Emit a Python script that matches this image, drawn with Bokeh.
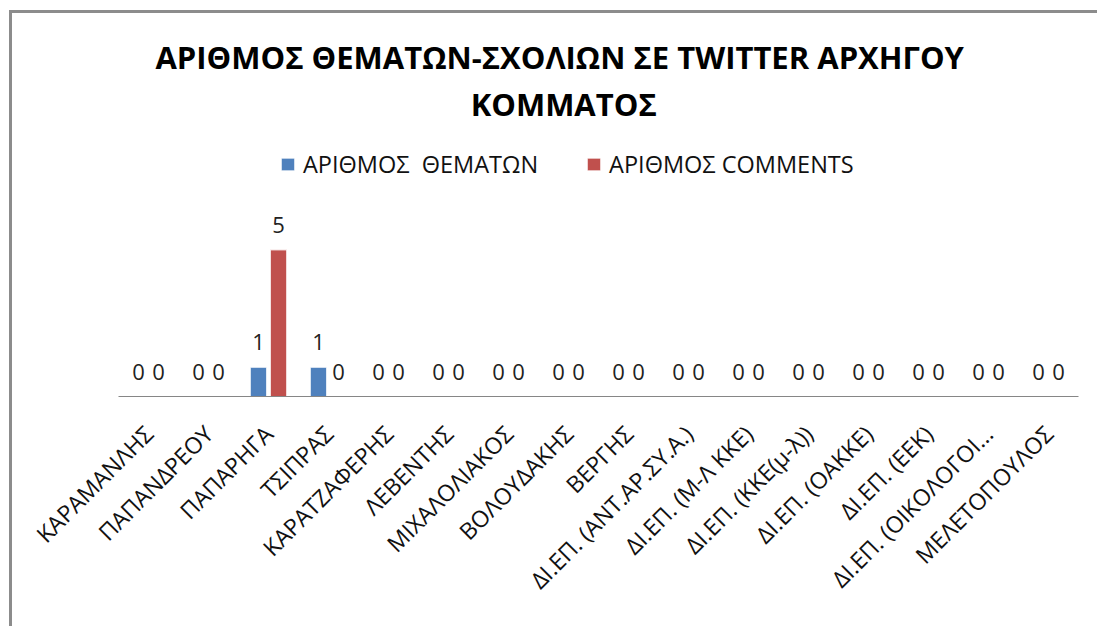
import math
from bokeh.plotting import figure
from bokeh.models import ColumnDataSource, LabelSet, Label, Legend, LegendItem, FactorRange, Range1d
from bokeh.transform import dodge
from bokeh.core.properties import value
from bokeh.embed import file_html
from bokeh.resources import INLINE

categories = ["ΚΑΡΑΜΑΝΛΗΣ", "ΠΑΠΑΝΔΡΕΟΥ", "ΠΑΠΑΡΗΓΑ", "ΤΣΙΠΡΑΣ", "ΚΑΡΑΤΖΑΦΕΡΗΣ",
              "ΛΕΒΕΝΤΗΣ", "ΜΙΧΑΛΟΛΙΑΚΟΣ", "ΒΟΛΟΥΔΑΚΗΣ", "ΒΕΡΓΗΣ",
              "ΔΙ.ΕΠ. (ΑΝΤ.ΑΡ.ΣΥ.Α.)", "ΔΙ.ΕΠ. (Μ-Λ ΚΚΕ)", "ΔΙ.ΕΠ. (ΚΚΕ(μ-λ))",
              "ΔΙ.ΕΠ. (ΟΑΚΚΕ)", "ΔΙ.ΕΠ. (ΕΕΚ)", "ΔΙ.ΕΠ. (ΟΙΚΟΛΟΓΟΙ...", "ΜΕΛΕΤΟΠΟΥΛΟΣ"]
themata = [0, 0, 1, 1, 0, 0, 0, 0, 0, 0, 0, 0, 0, 0, 0, 0]
comments = [0, 0, 5, 0, 0, 0, 0, 0, 0, 0, 0, 0, 0, 0, 0, 0]
series_names = ["ΑΡΙΘΜΟΣ  ΘΕΜΑΤΩΝ", "ΑΡΙΘΜΟΣ COMMENTS"]
title_lines = ["ΑΡΙΘΜΟΣ ΘΕΜΑΤΩΝ-ΣΧΟΛΙΩΝ ΣΕ TWITTER  ΑΡΧΗΓΟΥ", "ΚΟΜΜΑΤΟΣ"]

BLUE = "#4F81BD"
RED = "#C0504D"
FONT = "Open Sans"

src = ColumnDataSource(dict(
    cat=categories,
    themata=themata,
    comments=comments,
    themata_txt=[str(v) for v in themata],
    comments_txt=[str(v) for v in comments],
))

W, H = 1088, 616
p = figure(x_range=FactorRange(*categories), y_range=Range1d(0, 13.06),
           width=W, height=H, output_backend="svg", toolbar_location=None,
           min_border_left=106, min_border_right=22, min_border_top=0, min_border_bottom=233)
p.styles = {"border-left": "3px solid #8c8c8c", "border-top": "3px solid #8c8c8c",
            "margin-left": "9px", "margin-top": "10px"}
p.outline_line_color = None
p.background_fill_color = "white"
p.border_fill_color = "white"
p.xgrid.grid_line_color = None
p.ygrid.grid_line_color = None
p.yaxis.visible = False

off = 0.167
bw = 0.275
r1 = p.vbar(x=dodge("cat", -off, range=p.x_range), top="themata", width=bw, source=src,
            fill_color=BLUE, line_color="white", line_width=1)
r2 = p.vbar(x=dodge("cat", off, range=p.x_range), top="comments", width=bw, source=src,
            fill_color=RED, line_color="white", line_width=1)

for col, txt, o in (("themata", "themata_txt", -off), ("comments", "comments_txt", off)):
    p.add_layout(LabelSet(x=dodge("cat", o, range=p.x_range), y=col, text=txt, source=src,
                          text_align="center", text_baseline="alphabetic", y_offset=17,
                          text_font=value(FONT), text_font_size="22px", text_color="#222222"))

ax = p.xaxis[0]
ax.major_label_orientation = math.pi / 4
ax.major_tick_line_color = None
ax.minor_tick_line_color = None
ax.axis_line_color = "#868686"
ax.axis_line_width = 1
ax.major_label_text_font = FONT
ax.major_label_text_font_size = "23px"
ax.major_label_text_color = "#111111"
ax.major_label_standoff = 27

legend = Legend(items=[LegendItem(label=series_names[0], renderers=[r1]),
                       LegendItem(label=series_names[1], renderers=[r2])],
                orientation="horizontal", location=(161, 216),
                label_text_font=FONT, label_text_font_size="23.5px", label_text_color="#111111",
                glyph_width=17, glyph_height=16, label_standoff=7, spacing=47,
                padding=0, margin=0, border_line_color=None, background_fill_alpha=0)
p.add_layout(legend, "center")

# title lines, positioned in data space above the bars
for t, yy in zip(title_lines, (11.56, 9.99)):
    p.add_layout(Label(x=7.42, y=yy, text=t,
                       text_align="center", text_baseline="middle",
                       text_font=FONT, text_font_size="31px", text_font_style="bold",
                       text_color="#000000"))

open("out.html", "w").write(file_html(p, INLINE))
